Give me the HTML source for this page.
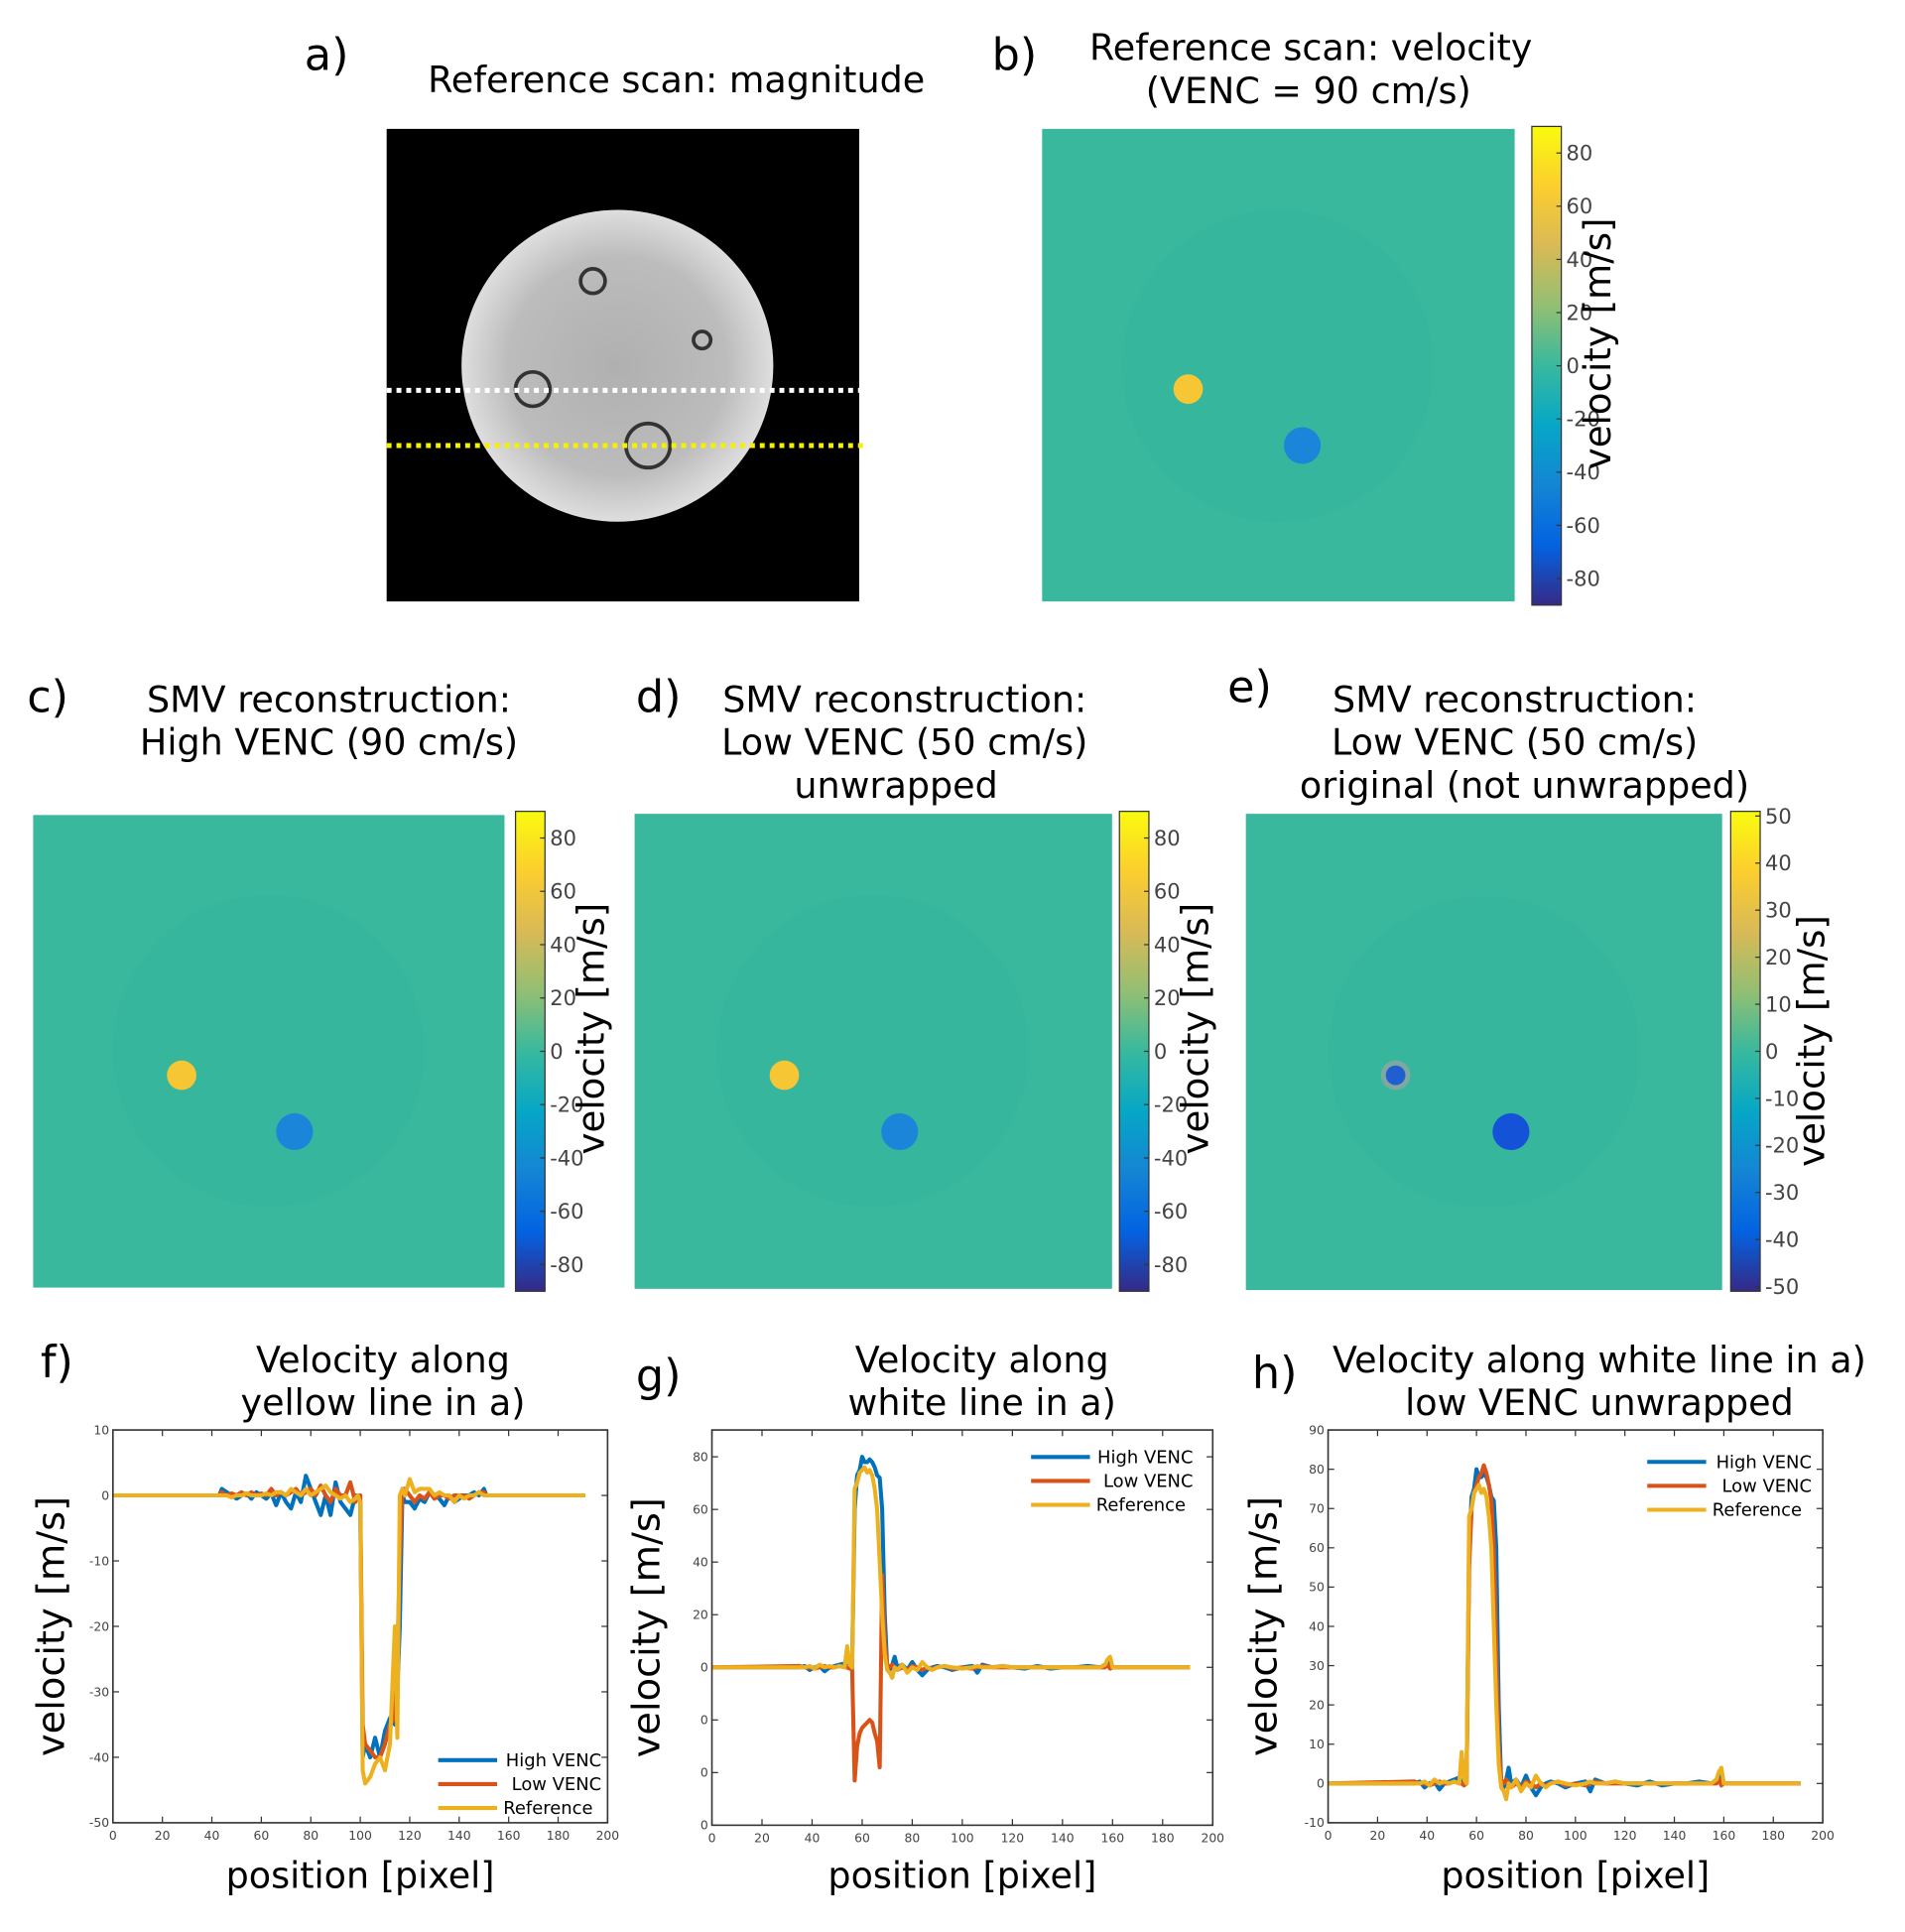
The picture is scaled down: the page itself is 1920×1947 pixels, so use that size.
<!DOCTYPE html>
<html><head><meta charset="utf-8"><style>
html,body{margin:0;padding:0;background:#fff;}
svg{display:block;}
text{font-family:"DejaVu Sans","Liberation Sans",sans-serif;}
</style></head><body>
<svg id="fig" xmlns="http://www.w3.org/2000/svg" width="1920" height="1947" viewBox="0 0 1552 1574" preserveAspectRatio="none">
<defs>
<linearGradient id="parula" x1="0" y1="1" x2="0" y2="0">
<stop offset="0" stop-color="#352a87"/><stop offset="0.125" stop-color="#0363e1"/><stop offset="0.25" stop-color="#1485d4"/><stop offset="0.375" stop-color="#06a7c6"/><stop offset="0.5" stop-color="#38b99e"/><stop offset="0.625" stop-color="#92bf73"/><stop offset="0.75" stop-color="#d9ba56"/><stop offset="0.875" stop-color="#fcce2e"/><stop offset="1" stop-color="#f9fb0e"/>
</linearGradient>
<radialGradient id="phantom" cx="0.5" cy="0.5" r="0.5">
<stop offset="0" stop-color="#b0b0b0"/><stop offset="0.7" stop-color="#bcbcbc"/><stop offset="1" stop-color="#dedede"/>
</radialGradient>
</defs>

<g>
<text x="248" y="57" font-size="36">a)</text>
<text x="551" y="75" font-size="29.5" text-anchor="middle">Reference scan: magnitude</text>
<rect x="315" y="105" width="385" height="385" fill="#000"/>
<circle cx="503" cy="298" r="127" fill="url(#phantom)"/>
<circle cx="483" cy="229" r="10" fill="none" stroke="#333" stroke-width="3"/>
<circle cx="572" cy="277" r="7" fill="none" stroke="#333" stroke-width="3"/>
<circle cx="434" cy="317" r="14" fill="none" stroke="#333" stroke-width="3"/>
<circle cx="528" cy="363" r="18" fill="none" stroke="#333" stroke-width="3"/>
<line x1="315" y1="318" x2="700" y2="318" stroke="#fff" stroke-width="4" stroke-dasharray="4 4"/>
<line x1="315" y1="363" x2="705" y2="363" stroke="#f5f000" stroke-width="4" stroke-dasharray="4 4"/>
</g>

<g>
<text x="808" y="57" font-size="36">b)</text>
<text x="1068" y="49" font-size="29.5" text-anchor="middle">Reference scan: velocity</text>
<text x="1066" y="84" font-size="29.5" text-anchor="middle">(VENC = 90 cm/s)</text>
<rect x="849" y="105" width="385" height="385" fill="#39b89e"/>
<circle cx="1041" cy="298" r="127" fill="#35b4a0" opacity="0.3"/>
<circle cx="968" cy="317" r="12" fill="#f7c634"/>
<circle cx="1061" cy="363" r="15" fill="#1b86d9"/>
</g>

<g>
<text x="22" y="580" font-size="36">c)</text>
<text x="268" y="580" font-size="29.5" text-anchor="middle">SMV reconstruction:</text>
<text x="268" y="615" font-size="29.5" text-anchor="middle">High VENC (90 cm/s)</text>
<rect x="27" y="664" width="384" height="385" fill="#39b89e"/>
<circle cx="219" cy="856" r="127" fill="#35b4a0" opacity="0.3"/>
<circle cx="148" cy="876" r="12" fill="#f7c634"/>
<circle cx="240" cy="922" r="15" fill="#1b86d9"/>
</g>

<g>
<text x="518" y="580" font-size="36">d)</text>
<text x="737" y="580" font-size="29.5" text-anchor="middle">SMV reconstruction:</text>
<text x="737" y="615" font-size="29.5" text-anchor="middle">Low VENC (50 cm/s)</text>
<text x="730" y="650" font-size="29.5" text-anchor="middle">unwrapped</text>
<rect x="517" y="663" width="389" height="387" fill="#39b89e"/>
<circle cx="711" cy="856" r="127" fill="#35b4a0" opacity="0.3"/>
<circle cx="639" cy="876" r="12" fill="#f7c634"/>
<circle cx="733" cy="922" r="15" fill="#1b86d9"/>
</g>

<g>
<text x="1000" y="572" font-size="36">e)</text>
<text x="1234" y="580" font-size="29.5" text-anchor="middle">SMV reconstruction:</text>
<text x="1234" y="615" font-size="29.5" text-anchor="middle">Low VENC (50 cm/s)</text>
<text x="1242" y="650" font-size="29.5" text-anchor="middle">original (not unwrapped)</text>
<rect x="1015" y="663" width="388" height="388" fill="#39b89e"/>
<circle cx="1209" cy="857" r="127" fill="#35b4a0" opacity="0.3"/>
<circle cx="1137" cy="876" r="12" fill="#7fa9a0"/>
<circle cx="1137" cy="876" r="8" fill="#1f5fd0"/>
<circle cx="1231" cy="922" r="15" fill="#1452d8"/>
</g>

<g id="colorbars"></g>
<g id="plots"></g>
</svg>
<script>
// ---- colorbar data ----
const cbTicksVenc90 = [80, 60, 40, 20, 0, -20, -40, -60, -80];
const cbTicksVenc50 = [50, 40, 30, 20, 10, 0, -10, -20, -30, -40, -50];

// ---- plot f data (yellow line) ----
const fX = [0,43,44,46,48,50,52,54,56,58,60,62,64,66,68,70,72,74,76,78,80,82,84,86,88,90,92,94,96,98,99,100,101,102,104,106,108,110,112,114,115,116,117,118,120,122,124,126,128,130,132,134,136,138,140,142,144,146,148,150,151,191];
const fHigh = [0,0,1,0.5,0,-0.5,0,0.3,-0.5,0.5, 0,-0.5,0.3,-1.5,0.5,-1,-2,0.5,-1,3, 1,-1,-3,0,-3,2,-1,-2,-3,0, 0,-1,-40,-38,-40,-37,-40,-36,-34,-35, -30,-20,0,-1,-1,-2,-0.5,-1,0.5,0, -0.5,-1.5,0,-1,-0.5,0,0,0.5,0,1, 0,0];
const fLow = [0,0,0.5,0,0.3,0,0.5,0,0.5,0, 0.3,0,1,0,0.5,0,0.5,1,0,0.5, 1,0,1.5,0,-1,1,0,0,2,-1, 0,0,-35,-38,-39,-40,-40,-38,-35,-34, -25,-10,1,1,0,-1,0,-0.5,0.5,-0.5, 0,0,-0.5,0,0,0,-0.5,0,0.5,0.5, 0,0];
const fRef = [0,0,0,0,-0.3,0,0,0.3,0,0, 0,0.3,0,0.5,0.5,0,1,0.5,0,1, 0,0.5,1,1.5,0.5,0,-0.5,0,-1,-0.5, 0,-1,-42,-44,-43,-41,-40,-42,-38,-20, -37,0,1,0,2.5,0.5,1,1,1,0, 0.5,0,0,-1,0,-0.5,0,0,0.5,0, 0,0];

// ---- plot g data (white line, low VENC wrapped) ----
const gX = [0,35,37,39,41,43,45,47,49,51,53,54,55,56,57,58,59,60,61,62,63,64,65,66,67,68,69,70,71,72,73,74,76,78,80,82,84,86,88,90,93,96,100,104,106,108,112,116,120,125,130,135,140,145,150,155,157,158,159,160,191];
const gHigh = [0,0,0.5,-1,0,0.5,-1.5,0,0.5,1, 1.5,0,1,0,60,73,75,80,78,78, 79,78,76,73,72,60,20,0,-1,1, 4,0,1,-1,2,-1,-3,-1,0,0.5, 0,-1,0,0.5,-2,1,0,0.5,0,-0.5, 0.5,-0.5,0,0,0.5,0,1,2,0,0, 0];
const gLow = [0,0.5,0,0,-0.5,0,0.5,0,0,0.5, 0,0,-0.5,0,-43,-30,-25,-23,-22,-21, -20,-21,-25,-28,-38,35,10,1,0,1, 0,-1,0,-1,0.5,0,-1,0,-0.5,0, 0.5,-0.5,0,-0.5,0,0.5,0,0,0,0, 0,0,0,0,0,0,0,1,-0.5,0, 0];
const gRef = [0,0,0,0.5,-0.5,1,0,0.5,0,0.5, 0,8,1,0,68,70,74,75,76,74, 75,73,68,60,40,20,5,-1,-2,-4, 0,-1,1,-2,0,-1,2,0,-1,0, 0.5,0,-0.5,0,0.5,0,0,0.5,0,0, 0,0,0,0,0,0,1,3,4,0, 0];

// ---- plot h data (white line, low VENC unwrapped) ----
const hX = [0,35,37,39,41,43,45,47,49,51,53,54,55,56,57,58,59,60,61,62,63,64,65,66,67,68,69,70,71,72,73,74,76,78,80,82,84,86,88,90,93,96,100,104,106,108,112,116,120,125,130,135,140,145,150,155,157,158,159,160,191];
const hHigh = [0,0,0.5,-1,0,0.5,-1.5,0,0.5,1, 1.5,0,1,0,60,73,75,80,78,78, 79,78,76,73,72,60,20,0,-1,1, 4,0,1,-1,2,-1,-3,-1,0,0.5, 0,-1,0,0.5,-2,1,0,0.5,0,-0.5, 0.5,-0.5,0,0,0.5,0,1,2,0,0, 0];
const hLow = [0,0.5,0,0,-0.5,0,0.5,0,0,0.5, 0,0,-0.5,0,55,70,74,76,78,79, 81,79,76,72,60,35,10,1,0,1, 0,-1,0,-1,0.5,0,-1,0,-0.5,0, 0.5,-0.5,0,-0.5,0,0.5,0,0,0,0, 0,0,0,0,0,0,0,1,-0.5,0, 0];
const hRef = [0,0,0,0.5,-0.5,1,0,0.5,0,0.5, 0,8,1,0,68,70,74,75,76,74, 75,73,68,60,40,20,5,-1,-2,-4, 0,-1,1,-2,0,-1,2,0,-1,0, 0.5,0,-0.5,0,0.5,0,0,0.5,0,0, 0,0,0,0,0,0,1,3,4,0, 0];

const xTicks = [0,20,40,60,80,100,120,140,160,180,200];
const fYTicks = [10,0,-10,-20,-30,-40,-50];
const fYLabels = ["10","0","-10","-20","-30","-40","-50"];
const gYTicks = [80,60,40,20,0,-20,-40,-60];
const gYLabels = ["80","60","40","20","0","0","0","0"];
const hYTicks = [90,80,70,60,50,40,30,20,10,0,-10];
const hYLabels = ["90","80","70","60","50","40","30","20","10","0","-10"];
const legendNames = ["High VENC", " Low VENC", "Reference"];

const NS = "http://www.w3.org/2000/svg";
function mk(tag, attrs, parent, txt) {
  const e = document.createElementNS(NS, tag);
  for (const k in attrs) e.setAttribute(k, attrs[k]);
  if (txt !== undefined) e.textContent = txt;
  parent.appendChild(e);
  return e;
}

const cbG = document.getElementById('colorbars');
const cbs = [
  {id:'b', x:1248, y0:103, y1:493, max:90, min:-90, ticks:cbTicksVenc90, lx:1312, ly:280},
  {id:'c', x:420, y0:661, y1:1052, max:90, min:-90, ticks:cbTicksVenc90, lx:492, ly:838},
  {id:'d', x:912, y0:661, y1:1052, max:90, min:-90, ticks:cbTicksVenc90, lx:984, ly:838},
  {id:'e', x:1410, y0:661, y1:1052, max:51, min:-51, ticks:cbTicksVenc50, lx:1486, ly:848}
];
cbs.forEach(cb => {
  const r = mk('rect', {x:cb.x, y:cb.y0, width:24, height:cb.y1-cb.y0, fill:'url(#parula)', stroke:'#333', 'stroke-width':1}, cbG);
  
  
  const sy = v => cb.y0 + (cb.max - v) / (cb.max - cb.min) * (cb.y1 - cb.y0);
  cb.ticks.forEach(v => {
    mk('line', {x1:cb.x+20, x2:cb.x+24, y1:sy(v), y2:sy(v), stroke:'#333', 'stroke-width':1}, cbG);
    const t = mk('text', {x:cb.x+28, y:sy(v)+6, 'font-size':17, fill:'#444'}, cbG, String(v));
    
    
  });
  const lab = mk('text', {x:cb.lx, y:cb.ly, 'font-size':30, 'text-anchor':'middle', transform:'rotate(-90 '+cb.lx+' '+cb.ly+')'}, cbG, 'velocity [m/s]');
  
  
});

const plotsG = document.getElementById('plots');
const colors = ['#0072bd', '#d95319', '#edb120'];
const plots = [
  {id:'f', L:92, R:495, T:1165, B:1485, ymin:-50, ymax:10, yt:fYTicks, yl:fYLabels, xs:fX, series:[fHigh,fLow,fRef],
   letter:[33,1122], title:["Velocity along","yellow line in a)"], tx:312, ylx:52, leg:{x:357, y:1434, tx:490}},
  {id:'g', L:580, R:988, T:1165, B:1487, ymin:-60, ymax:90.2, yt:gYTicks, yl:gYLabels, xs:gX, series:[gHigh,gLow,gRef],
   letter:[518,1133], title:["Velocity along","white line in a)"], tx:800, ylx:537, leg:{x:840, y:1187, tx:972}},
  {id:'h', L:1082, R:1485, T:1165, B:1485, ymin:-10, ymax:90, yt:hYTicks, yl:hYLabels, xs:hX, series:[hHigh,hLow,hRef],
   letter:[1020,1131], title:["Velocity along white line in a)","low VENC unwrapped"], tx:1303, ylx:1040, leg:{x:1342, y:1191, tx:1476}}
];
plots.forEach(p => {
  const g = mk('g', {}, plotsG);
  
  
  const sx = v => p.L + (v - 0) / 200 * (p.R - p.L);
  const sy = v => p.T + (p.ymax - v) / (p.ymax - p.ymin) * (p.B - p.T);
  const let_ = mk('text', {x:p.letter[0], y:p.letter[1], 'font-size':36}, g, p.id + ')');
  
  
  p.title.forEach((s, i) => {
    const t = mk('text', {x:p.tx, y:1118 + i*35, 'font-size':29.5, 'text-anchor':'middle'}, g, s);
    
    
  });
  xTicks.forEach(v => {
    const X = sx(v);
    mk('line', {x1:X, x2:X, y1:p.B, y2:p.B-5, stroke:'#333', 'stroke-width':1}, g);
    mk('line', {x1:X, x2:X, y1:p.T, y2:p.T+5, stroke:'#333', 'stroke-width':1}, g);
    const t = mk('text', {x:X, y:p.B+14, 'font-size':10, 'text-anchor':'middle', fill:'#444'}, g, String(v));
    
    
  });
  p.yt.forEach((v, i) => {
    const Y = sy(v);
    mk('line', {x1:p.L, x2:p.L+5, y1:Y, y2:Y, stroke:'#333', 'stroke-width':1}, g);
    mk('line', {x1:p.R, x2:p.R-5, y1:Y, y2:Y, stroke:'#333', 'stroke-width':1}, g);
    const t = mk('text', {x:p.L-3, y:Y+3.5, 'font-size':10, 'text-anchor':'end', fill:'#444'}, g, p.yl[i]);
    
    
  });
  p.series.forEach((arr, si) => {
    const d = arr.map((v, i) => (i ? 'L' : 'M') + sx(p.xs[i]).toFixed(1) + ' ' + sy(v).toFixed(1)).join(' ');
    const path = mk('path', {d:d, fill:'none', stroke:colors[si], 'stroke-width':3.3, 'stroke-linejoin':'round'}, g);
    
    
  });
  const box = mk('rect', {x:p.L, y:p.T, width:p.R-p.L, height:p.B-p.T, fill:'none', stroke:'#333', 'stroke-width':1.3}, g);
  
  
  const lg = mk('g', {}, g);
  
  
  legendNames.forEach((n, i) => {
    const y = p.leg.y + i*19.5;
    mk('line', {x1:p.leg.x, x2:p.leg.x+48, y1:y, y2:y, stroke:colors[i], 'stroke-width':3.3}, lg);
    const t = mk('text', i < 2 ? {x:p.leg.tx, y:y+5, 'font-size':14.5, 'text-anchor':'end'} : {x:p.leg.x+53, y:y+5, 'font-size':14.5}, lg, n.trim());
    
    
  });
  const xl = mk('text', {x:(p.L+p.R)/2, y:1538, 'font-size':29.5, 'text-anchor':'middle'}, g, 'position [pixel]');
  
  
  const yc = (p.T+p.B)/2;
  const yl = mk('text', {x:p.ylx, y:yc, 'font-size':31, 'text-anchor':'middle', transform:'rotate(-90 '+p.ylx+' '+yc+')'}, g, 'velocity [m/s]');
  
  
});
</script>
</body></html>
